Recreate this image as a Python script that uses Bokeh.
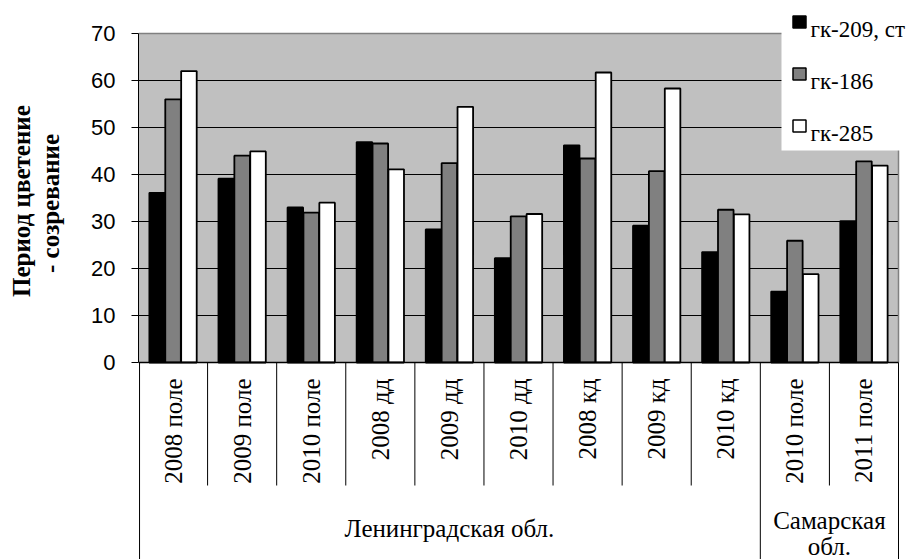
import numpy as np
from math import pi

from bokeh.plotting import figure
from bokeh.models import Range1d, LinearAxis, FixedTicker, Title
from bokeh.core.properties import value
from bokeh.embed import file_html
from bokeh.resources import INLINE

# ---- data -------------------------------------------------------------
categories = ["2008 поле", "2009 поле", "2010 поле",
              "2008 дд", "2009 дд", "2010 дд",
              "2008 кд", "2009 кд", "2010 кд",
              "2010 поле", "2011 поле"]

series_names = ["гк-209, ст", "гк-186", "гк-285"]
series_colors = ["#000000", "#808080", "#ffffff"]

gk209 = [36.1, 39.1, 33.0, 46.9, 28.3, 22.2, 46.2, 29.1, 23.5, 15.1, 30.1]
gk186 = [56.0, 44.0, 31.9, 46.6, 42.4, 31.1, 43.4, 40.7, 32.5, 25.9, 42.8]
gk285 = [62.0, 44.9, 34.0, 41.1, 54.4, 31.6, 61.7, 58.3, 31.5, 18.8, 41.9]

regions = ["Ленинградская обл.", "Самарская\nобл."]
region_sizes = [9, 2]

y_ticks = [0, 10, 20, 30, 40, 50, 60, 70]
y_title = ["Период цветение", "- созревание"]

# ---- layout (pixels) --------------------------------------------------
W, H = 906, 559
LEFT = 138          # left edge of the plot area
PLOT_W = 760        # width of the category area
TOP = 33            # top of the plot area
BASE = 362          # pixel row of the value 0
n = len(categories)
cw = PLOT_W / n
ymax = y_ticks[-1]
k = (BASE - TOP) / ymax


def dx(sx):
    return (sx - LEFT) / cw


def dy(sy):
    return (BASE - sy) / k


p = figure(width=W, height=H, output_backend="svg", toolbar_location=None,
           x_range=Range1d(0, dx(W)), y_range=Range1d(dy(H), dy(0)),
           x_axis_location=None, y_axis_location=None,
           min_border_left=LEFT, min_border_right=0,
           min_border_top=0, min_border_bottom=0,
           outline_line_color=None,
           background_fill_color="white", border_fill_color="white")
p.grid.grid_line_color = None

yaxis = LinearAxis(ticker=FixedTicker(ticks=y_ticks), bounds=(0, ymax))
yaxis.axis_line_color = "black"
yaxis.axis_line_width = 1
yaxis.major_tick_in = 0
yaxis.major_tick_out = 7
yaxis.major_tick_line_color = "black"
yaxis.minor_tick_line_color = None
yaxis.major_label_standoff = 16
yaxis.major_label_text_font = "Liberation Sans"
yaxis.major_label_text_font_size = "22px"
yaxis.major_label_text_color = "black"
p.add_layout(yaxis, "left")

# gap between the tick labels and the axis title
p.add_layout(Title(text=" ", text_font_size="1px", standoff=22), "left")

# y axis title: two rotated lines, centred on the value axis
title_mid = 201
title_widths = [191, 143]
for line, tw in zip(reversed(y_title), reversed(title_widths)):
    t = Title(text=line, align="left", offset=H - title_mid - tw / 2,
              standoff=0, text_font="Liberation Serif", text_font_style="bold",
              text_font_size="25px", text_color="black")
    p.add_layout(t, "left")

# plot area background, grid and border
p.quad(left=0, right=n, bottom=0, top=ymax, fill_color="#c0c0c0", line_color=None)
grid_vals = y_ticks[1:-1]
p.segment(x0=[0] * len(grid_vals), x1=[n] * len(grid_vals), y0=grid_vals, y1=grid_vals,
          line_color="black", line_width=1)
p.segment(x0=[0, n], x1=[n, n], y0=[ymax, 0], y1=[ymax, ymax],
          line_color="#808080", line_width=1.5)

# bars
idx = np.arange(n) + 0.5
bar_w = 0.225
offsets = [-0.23, 0.0, 0.23]
for vals, color, off in zip([gk209, gk186, gk285], series_colors, offsets):
    p.vbar(x=idx + off, width=bar_w, bottom=0, top=vals,
           fill_color=color, line_color="black", line_width=1.8)

# category axis line
p.segment(x0=[0], x1=[n], y0=[0], y1=[0], line_color="black", line_width=1.5)

# category label boxes
inner_bottom = dy(485)
bounds = np.concatenate([[0], np.cumsum(region_sizes)])
inner = [i for i in range(1, n) if i not in bounds]
p.segment(x0=inner, x1=inner, y0=[0] * len(inner), y1=[inner_bottom] * len(inner),
          line_color="black", line_width=1)
outer = [max(b, 0.015) for b in bounds]
p.segment(x0=outer, x1=outer, y0=[0] * len(outer), y1=[dy(H)] * len(outer),
          line_color="black", line_width=1)

p.text(x=idx, y=[dy(378)] * n, text=categories, angle=pi / 2,
       text_font=value("Liberation Serif"), text_font_size="25px",
       text_align="right", text_baseline="middle", text_color="black")

for name, lo, hi in zip(regions, bounds[:-1], bounds[1:]):
    lines = name.split("\n")
    first = 528 if len(lines) == 1 else 520
    ys = [dy(first + 26 * j) for j in range(len(lines))]
    p.text(x=[(lo + hi) / 2] * len(lines), y=ys, text=lines,
           text_font=value("Liberation Serif"), text_font_size="25px",
           text_align="center", text_baseline="alphabetic", text_color="black")

# legend
p.quad(left=dx(781), right=dx(W) + 1, bottom=dy(150), top=dy(-5),
       fill_color="white", line_color=None)
leg_y = [21.5 + 52 * i for i in range(len(series_names))]
p.rect(x=[dx(799)] * len(series_names), y=[dy(v) for v in leg_y],
       width=13, height=12, width_units="screen", height_units="screen",
       fill_color=series_colors, line_color="black", line_width=1.5)
p.text(x=[dx(810)] * len(series_names), y=[dy(v + 7) for v in leg_y], text=series_names,
       text_font=value("Liberation Serif"), text_font_size="23px",
       text_align="left", text_baseline="alphabetic", text_color="black")

open("out.html", "w").write(file_html(p, INLINE))
